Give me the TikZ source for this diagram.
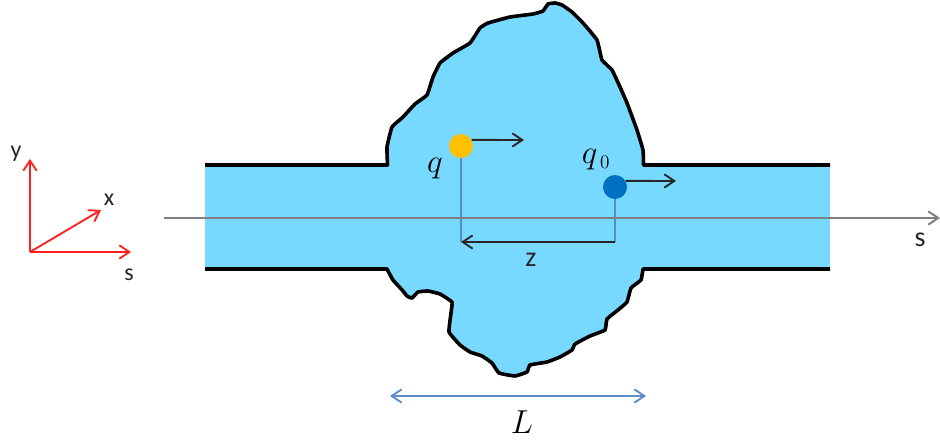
\documentclass[tikz,border=0pt]{standalone}
\usepackage{amsmath,amssymb}
\usepackage{fontspec}
\setsansfont{Carlito}
\usepackage{tikz}
\usetikzlibrary{arrows.meta,positioning}
\definecolor{pipeblue}{HTML}{77D9FF}
\definecolor{qyellow}{HTML}{FFC000}
\definecolor{qblue}{HTML}{0070C0}
\definecolor{linkblue}{HTML}{5B8BC9}
\definecolor{axisred}{HTML}{FF2020}
\definecolor{axisgray}{HTML}{808080}
\tikzset{
  barb/.tip={Straight Barb[length=7.5pt,width=10pt]},
  wall/.style={line width=2.7pt,black,line join=round,fill=pipeblue},
  charge/.style={circle,minimum size=18pt,inner sep=0pt},
  drift/.style={-barb,line width=1.4pt,black!85},
  link/.style={line width=1.3pt,linkblue},
  frameaxis/.style={-barb,line width=1.4pt,axisred},
  sanslabel/.style={font=\sffamily\fontsize{21}{21}\selectfont,text=black!85,inner sep=0pt},
  framelabel/.style={font=\sffamily\fontsize{18}{18}\selectfont,text=black!85,inner sep=0pt},
  mathlabel/.style={font=\fontsize{27}{27}\selectfont,inner sep=0pt}
}
\begin{document}
\begin{tikzpicture}[x=0.75pt,y=-0.75pt,>=Stealth]
  \useasboundingbox (0,0) rectangle (940,442);
  % pipe and cavity
  \fill[pipeblue] (205,165) rectangle (830,269);
  \draw[wall] (205,165) -- (387.5,165) -- plot[smooth,tension=0.2] coordinates {
      (387.5,165) (387,147) (392,127) (403,117) (415,104) (427,95) (433,77) (440,63)
      (453,53) (470,43) (480,28) (488,23) (510,17) (533,14) (543,11) (548,4) (555,3)
      (562,5) (572,12) (583,23) (597,40) (602,60) (612,70) (620,87) (627,103) (637,130)
      (643,150) (643.5,165)} -- (830,165);
  \draw[wall] (205,269) -- (387,269) -- plot[smooth,tension=0.2] coordinates {
      (387,269) (393,280) (403,291) (407,296) (412,298) (418,292) (428,291) (440,294)
      (452,302) (451,313) (449,332) (460,345) (470,352) (482,356) (492,363) (499,373)
      (515,376) (527,372) (530,365) (547,362) (560,357) (572,350) (575,344) (590,336)
      (605,330) (607,319) (618,310) (627,302) (631,288) (641,280) (643,269)} -- (830,269);
  % charges
  \node[charge,fill=qyellow] (q) at (461,146) {};
  \node[charge,fill=qblue] (qzero) at (615,187) {};
  \coordinate (qhead) at (524,140);
  \coordinate (qzerohead) at (676,181);
  \coordinate (qfoot) at (461,242);
  \coordinate (qzerofoot) at (615,242);
  \draw[link] (q) -- (qfoot);
  \draw[link] (qzero) -- (qzerofoot);
  \draw[drift] (q.30) -- (qhead);
  \draw[drift] (qzero.30) -- (qzerohead);
  \draw[drift] (qzerofoot) -- (qfoot);
  \node[mathlabel] (qlabel) at (435,169) {$q$};
  \node[mathlabel] (qzerolabel) at (596,160) {$q_{\,\scriptscriptstyle 0}$};
  \node[sanslabel] (zlabel) at (531,260) {z};
  % beam axis
  \coordinate (axisstart) at (164,218);
  \coordinate (axisend) at (940,218);
  \draw[-barb,line width=1.5pt,axisgray] (axisstart) -- (axisend);
  \node[sanslabel] (slabel) at (920,240) {s};
  % length
  \coordinate (lenleft) at (390,396);
  \coordinate (lenright) at (646,396);
  \draw[barb-barb,line width=1.4pt,linkblue] (lenleft) -- (lenright);
  \node[mathlabel] (lenlabel) at (522,422) {$L$};
  % frame
  \coordinate (origin) at (30,252);
  \coordinate (yhead) at (30,159);
  \coordinate (xhead) at (101,210);
  \coordinate (shead) at (131,252);
  \draw[frameaxis] (origin) -- (yhead);
  \draw[frameaxis] (origin) -- (xhead);
  \draw[frameaxis] (origin) -- (shead);
  \node[framelabel] (ylabel) at (16,154) {y};
  \node[framelabel] (xlabel) at (109,200) {x};
  \node[framelabel] (sframe) at (129,275) {s};
\end{tikzpicture}
\end{document}
